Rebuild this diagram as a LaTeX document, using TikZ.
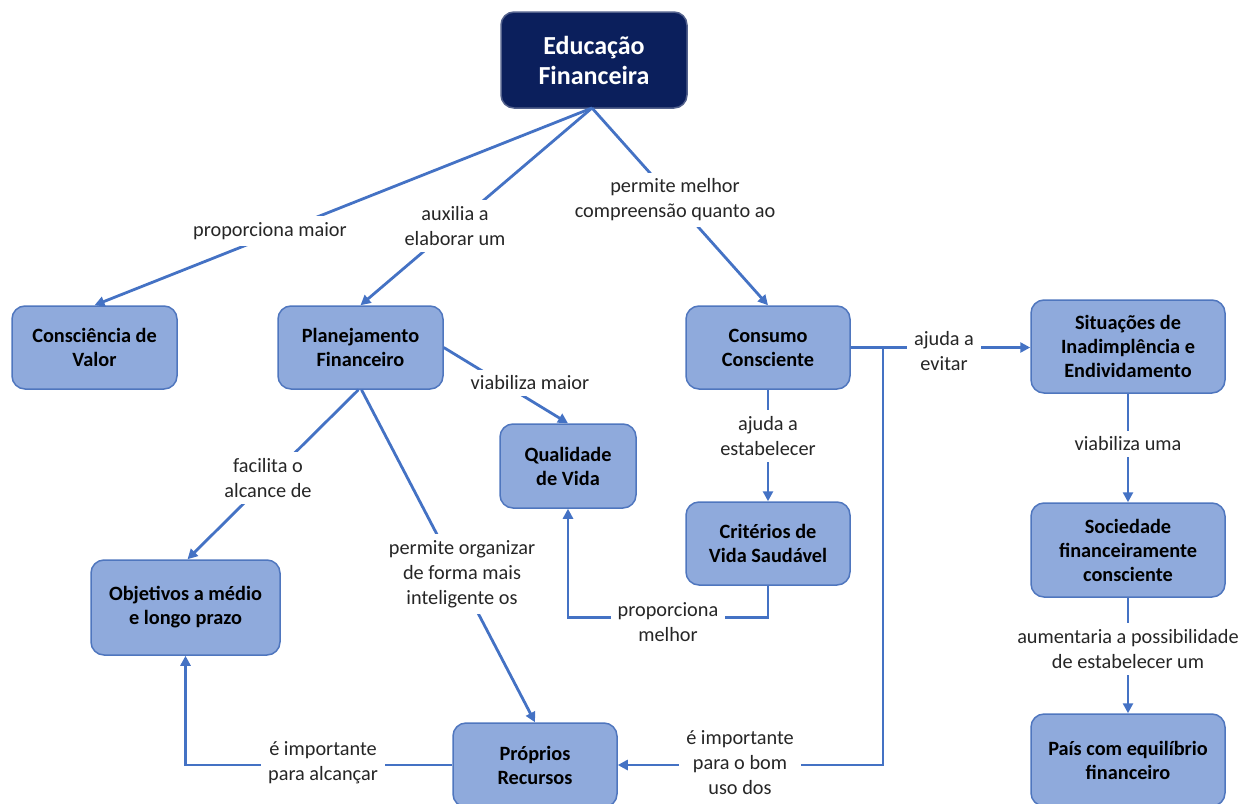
\documentclass[tikz,border=0pt]{standalone}
\usepackage{fontspec}
\setmainfont{Carlito}
\usetikzlibrary{arrows.meta}
\definecolor{navy}{HTML}{0B1F5C}
\definecolor{boxfill}{HTML}{8FAADC}
\definecolor{boxline}{HTML}{4F76BE}
\definecolor{link}{HTML}{4472C4}
\definecolor{txt}{HTML}{262626}
\tikzset{
  concept/.style={draw=boxline, line width=1.5pt, fill=boxfill, rounded corners=13pt,
    align=center, font=\fontsize{20.3}{24}\selectfont\bfseries, text=black, inner sep=0pt},
  rootbox/.style={concept, fill=navy, draw=navy!70!white, text=white,
    font=\fontsize{26}{30}\selectfont\bfseries},
  lbl/.style={fill=white, align=center, text=txt, inner xsep=7pt, inner ysep=6pt,
    font=\fontsize{20.3}{25}\selectfont},
  link/.style={draw=link, line width=2.8pt, -{Triangle[length=10pt,width=10pt]}}
}
\begin{document}
\begin{tikzpicture}[x=1pt,y=-1pt]
\useasboundingbox (0,0) rectangle (1255,803);

% concepts
\node[rootbox, minimum width=186pt, minimum height=96pt] (edu) at (594,60) {Educação\\Financeira};
\node[concept, minimum width=165pt, minimum height=83pt] (cv) at (94.5,347.5) {Consciência de\\Valor};
\node[concept, minimum width=165pt, minimum height=83pt] (pf) at (360.5,347.5) {Planejamento\\Financeiro};
\node[concept, minimum width=164pt, minimum height=83pt] (cc) at (768,347.5) {Consumo\\Consciente};
\node[concept, minimum width=194pt, minimum height=93pt] (si) at (1128,346.5) {Situações de\\Inadimplência e\\Endividamento};
\node[concept, minimum width=136pt, minimum height=84pt] (qv) at (568,466) {Qualidade\\de Vida};
\node[concept, minimum width=164pt, minimum height=83pt] (cr) at (768,543.5) {Critérios de\\Vida Saudável};
\node[concept, minimum width=189pt, minimum height=95pt] (ob) at (185.5,607.5) {Objetivos a médio\\e longo prazo};
\node[concept, minimum width=194pt, minimum height=94pt] (so) at (1128,550) {Sociedade\\financeiramente\\consciente};
\node[concept, minimum width=164pt, minimum height=84pt] (pr) at (535,765) {Próprios\\Recursos};
\node[concept, minimum width=194pt, minimum height=92pt] (pa) at (1128,760) {País com equilíbrio\\financeiro};

% connectors
\coordinate (hub) at (592,108);
\draw[link] (hub) -- (cv.north);
\draw[link] (hub) -- (pf.north);
\draw[link] (hub) -- (cc.north);
\draw[link] (pf.east) -- (qv.north);
\draw[link] ([xshift=-2pt]pf.south) -- ([xshift=2pt]ob.north);
\draw[link] ([xshift=1pt]pf.south) -- (pr.north);
\draw[link] (cc.south) -- (cr.north);
\draw[link] (cr.south) -- ++(0,32) -| (qv.south);
\draw[link] (cc.east) -- (si.west |- cc.east);
\coordinate (split) at (883,347.5);
\draw[link] (split) |- (pr.east);
\draw[link] (pr.west) -| (ob.south);
\draw[link] (si.south) -- (so.north);
\draw[link] (so.south) -- (pa.north);

% connector labels
\node[lbl] (l1) at (270,231) {proporciona maior};
\node[lbl] (l2) at (455,226) {auxilia a\\elaborar um};
\node[lbl] (l3) at (675,200) {permite melhor\\compreensão quanto ao};
\node[lbl] (l4) at (530,383) {viabiliza maior};
\node[lbl] (l5) at (268,478) {facilita o\\alcance de};
\node[lbl] (l6) at (462,574) {permite organizar\\de forma mais\\inteligente os};
\node[lbl] (l7) at (768,436) {ajuda a\\estabelecer};
\node[lbl] (l8) at (668,622) {proporciona\\melhor};
\node[lbl] (l9) at (944,351) {ajuda a\\evitar};
\node[lbl] (l10) at (740,763) {é importante\\para o bom\\uso dos};
\node[lbl] (l11) at (323,763) {é importante\\para alcançar};
\node[lbl] (l12) at (1128,444) {viabiliza uma};
\node[lbl] (l13) at (1128,649) {aumentaria a possibilidade\\de estabelecer um};
\end{tikzpicture}
\end{document}
